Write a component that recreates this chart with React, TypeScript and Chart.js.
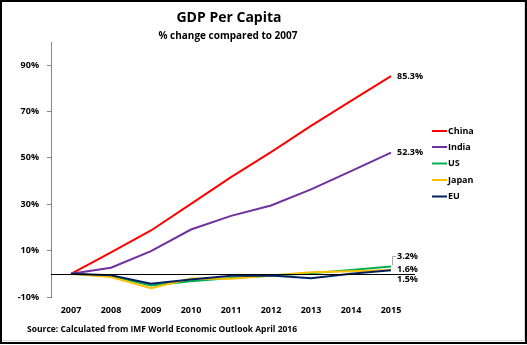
import React, { useEffect, useRef } from "react";
import { Chart, registerables } from "chart.js";

Chart.register(...registerables);

const years = ["2007", "2008", "2009", "2010", "2011", "2012", "2013", "2014", "2015"];
const china = [0, 9.3, 18.7, 30.2, 41.7, 52.5, 63.8, 74.6, 85.3];
const india = [0, 2.6, 9.8, 19.1, 25.0, 29.5, 36.4, 44.3, 52.3];
const us = [0, -1.0, -5.0, -3.2, -1.8, -0.8, 0.2, 1.6, 3.2];
const japan = [0, -1.4, -6.2, -2.0, -2.1, -0.7, 0.7, 1.1, 1.6];
const eu = [0, -0.6, -4.3, -2.5, -0.8, -0.7, -1.9, 0.0, 1.5];
const yTicks = [-10, 10, 30, 50, 70, 90];
const seriesNames = ["China", "India", "US", "Japan", "EU"];
const seriesColors = ["#FF0000", "#7030A0", "#00B050", "#FFC000", "#002060"];
const endLabels = ["85.3%", "52.3%", "3.2%", "1.6%", "1.5%"];
const titleText = "GDP Per Capita";
const subtitleText = "% change compared to 2007";
const sourceText = "Source: Calculated from IMF World Economic Outlook April 2016";

const FONT = "'Open Sans', 'Noto Sans', sans-serif";

const decorPlugin = {
  id: "decor",
  beforeDraw(chart: any) {
    const ctx = chart.ctx;
    ctx.save();
    ctx.fillStyle = "#ffffff";
    ctx.fillRect(0, 0, chart.width, chart.height);
    ctx.restore();
  },
  afterDatasetsDraw(chart: any) {
    const ctx = chart.ctx;
    const ys = chart.scales.y;
    const area = chart.chartArea;
    ctx.save();
    const y0 = Math.round(ys.getPixelForValue(0)) + 0.5;
    ctx.strokeStyle = "#000000";
    ctx.lineWidth = 1;
    ctx.beginPath();
    ctx.moveTo(area.left, y0);
    ctx.lineTo(area.right + 4, y0);
    ctx.stroke();
    ctx.restore();
  },
  afterDraw(chart: any) {
    const ctx = chart.ctx;
    const ys = chart.scales.y;
    const xs = chart.scales.x;
    const area = chart.chartArea;
    ctx.save();
    const cx = (area.left + area.right) / 2;
    ctx.fillStyle = "#000000";
    ctx.textAlign = "center";
    ctx.textBaseline = "middle";
    ctx.font = `bold 14px ${FONT}`;
    ctx.fillText(titleText, cx - 2, 18);
    ctx.font = `bold 10px ${FONT}`;
    ctx.fillText(subtitleText, cx - 3, 36);

    const last = years.length - 1;
    const xEnd = xs.getPixelForValue(last);
    ctx.font = `bold 9px ${FONT}`;
    ctx.textAlign = "left";
    const labelY = [
      ys.getPixelForValue(china[last]),
      ys.getPixelForValue(india[last]),
      256,
      269,
      279,
    ];
    endLabels.forEach((t, i) => {
      ctx.fillText(t, xEnd + 6, labelY[i]);
    });
    ctx.strokeStyle = "#A6A6A6";
    ctx.lineWidth = 1;
    ctx.beginPath();
    ctx.moveTo(xEnd + 1.5, ys.getPixelForValue(us[last]) - 1);
    ctx.lineTo(xEnd + 1.5, 256.5);
    ctx.lineTo(xEnd + 5, 256.5);
    ctx.stroke();

    const legendY = [131, 147, 163.5, 180, 196.5];
    seriesNames.forEach((n, i) => {
      ctx.strokeStyle = seriesColors[i];
      ctx.lineWidth = 2;
      ctx.beginPath();
      ctx.moveTo(432, legendY[i]);
      ctx.lineTo(447, legendY[i]);
      ctx.stroke();
      ctx.fillStyle = "#000000";
      ctx.fillText(n, 448, legendY[i]);
    });

    ctx.font = `bold 8.5px ${FONT}`;
    ctx.fillText(sourceText, 27, 330);

    ctx.strokeStyle = "#D9D9D9";
    ctx.lineWidth = 1;
    ctx.beginPath();
    ctx.moveTo(1, 340.5);
    ctx.lineTo(524.5, 340.5);
    ctx.lineTo(524.5, 1);
    ctx.stroke();
    ctx.strokeStyle = "#000000";
    ctx.lineWidth = 2;
    ctx.strokeRect(1, 1, 525, 342);
    ctx.restore();
  },
};

export default function App() {
  const ref = useRef<HTMLCanvasElement | null>(null);
  useEffect(() => {
    if (!ref.current) return;
    const chart = new Chart(ref.current, {
      type: "line",
      data: {
        labels: years,
        datasets: [china, india, us, japan, eu].map((d, i) => ({
          label: seriesNames[i],
          data: d,
          borderColor: seriesColors[i],
          backgroundColor: seriesColors[i],
          borderWidth: 2,
          pointRadius: 0,
          tension: 0,
          fill: false,
          order: 5 - i,
        })),
      },
      options: {
        responsive: false,
        animation: false,
        events: [],
        layout: { padding: { left: 11, top: 42, right: 116, bottom: 18 } },
        plugins: {
          legend: { display: false },
          title: { display: false },
          tooltip: { enabled: false },
        },
        scales: {
          x: {
            type: "category",
            offset: true,
            grid: { display: false, drawTicks: false },
            border: { display: false },
            ticks: {
              color: "#000000",
              font: { family: FONT, size: 9, weight: "bold" },
              padding: 8,
              maxRotation: 0,
            },
            afterFit: (s: any) => {
              s.height = 30;
            },
          },
          y: {
            min: -10,
            max: 100,
            afterBuildTicks: (s: any) => {
              s.ticks = yTicks.map((v) => ({ value: v }));
            },
            grid: {
              display: true,
              drawOnChartArea: false,
              drawTicks: true,
              tickLength: 4,
              color: "#868686",
            },
            border: { display: true, color: "#868686", width: 1 },
            ticks: {
              color: "#000000",
              font: { family: FONT, size: 9, weight: "bold" },
              padding: 8,
              callback: (v: any) => `${v}%`,
            },
            afterFit: (s: any) => {
              s.width = 40;
            },
          },
        },
      },
      plugins: [decorPlugin],
    });
    return () => chart.destroy();
  }, []);
  return (
    <div style={{ position: "fixed", left: 0, top: 0, width: 527, height: 345 }}>
      <canvas ref={ref} width={527} height={345} style={{ display: "block" }} />
    </div>
  );
}
